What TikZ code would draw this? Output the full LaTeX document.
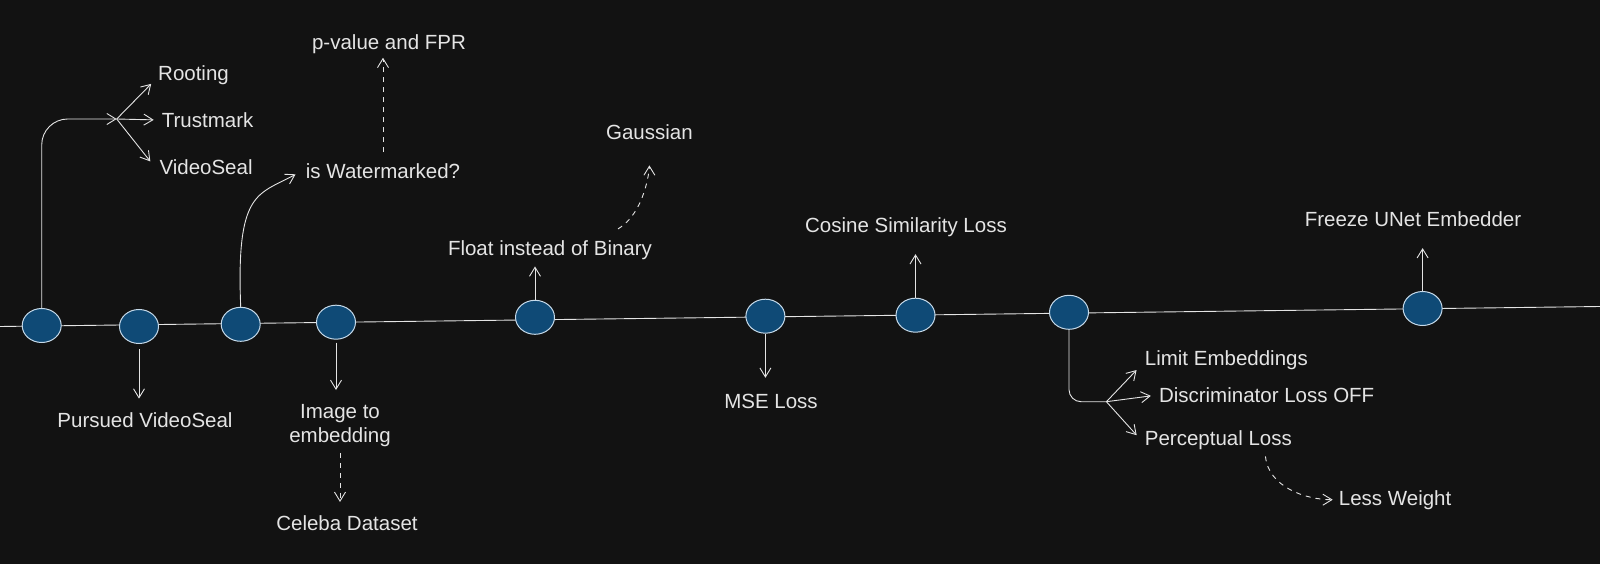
\documentclass[tikz,border=0pt]{standalone}
\usepackage{fontspec}
\setmainfont{Liberation Sans}
\usetikzlibrary{arrows.meta,shapes.geometric}
\definecolor{bg}{HTML}{121212}
\definecolor{ink}{HTML}{E4E4E4}
\definecolor{stepblue}{HTML}{0F4A76}
\definecolor{rim}{HTML}{C6DAEA}

\begin{document}
\begin{tikzpicture}[x=1pt, y=-1pt,
    >={Straight Barb[length=9pt,width=11pt]},
    stepnode/.style={ellipse, draw=rim, fill=stepblue, line width=1pt, minimum width=39pt, minimum height=34pt, inner sep=0pt},
    note/.style={text=ink, font=\fontsize{20.5}{24}\selectfont, inner sep=4pt},
    wire/.style={draw=ink, line width=0.9pt},
    link/.style={wire, ->},
    hint/.style={link, dash pattern=on 5pt off 5pt}]
    \useasboundingbox (0,0) rectangle (1600,564);
    \fill[bg] (0,0) rectangle (1600,564);

    \coordinate (tstart) at (0,326.5);
    \coordinate (tend) at (1600,306.5);
    \draw[wire] (tstart) -- (tend);

    \node[stepnode] (n1) at (41.7,325.5) {};
    \node[stepnode] (n2) at (139,326.5) {};
    \node[stepnode] (n3) at (240.7,324.3) {};
    \node[stepnode] (n4) at (336,322.2) {};
    \node[stepnode] (n5) at (535,317.3) {};
    \node[stepnode] (n6) at (765.4,316.2) {};
    \node[stepnode] (n7) at (915.5,315.2) {};
    \node[stepnode] (n8) at (1069,312.3) {};
    \node[stepnode] (n9) at (1422.6,308.5) {};

    \node[note, anchor=base west] (rooting) at (154,81) {Rooting};
    \node[note, anchor=base west] (trustmark) at (157.7,127.3) {Trustmark};
    \node[note, anchor=base west] (videoseal) at (155.3,175) {VideoSeal};
    \node[note, anchor=base] (wm) at (383,178.3) {is Watermarked?};
    \node[note, anchor=base] (pvalue) at (389,49.3) {p-value and FPR};
    \node[note, anchor=base] (pursued) at (145,427.7) {Pursued VideoSeal};
    \node[note, anchor=north, align=center] (img) at (340,400) {Image to\\embedding};
    \node[note, anchor=base] (celeba) at (347,530) {Celeba Dataset};
    \node[note, anchor=base] (float) at (550,255) {Float instead of Binary};
    \node[note, anchor=base] (gauss) at (649.4,140) {Gaussian};
    \node[note, anchor=base] (mse) at (771,408.3) {MSE Loss};
    \node[note, anchor=base] (cosine) at (906,232.7) {Cosine Similarity Loss};
    \node[note, anchor=base] (freeze) at (1413,226.7) {Freeze UNet Embedder};
    \node[note, anchor=base west] (limit) at (1140.7,365.7) {Limit Embeddings};
    \node[note, anchor=base west] (discr) at (1154.8,402.7) {Discriminator Loss OFF};
    \node[note, anchor=base west] (percep) at (1140.7,445) {Perceptual Loss};
    \node[note, anchor=base west] (less) at (1334.7,505) {Less Weight};

    \coordinate (fork1) at (116.7,119);
    \coordinate (fork2) at (1106.4,401.7);

    \draw[link, rounded corners=26pt] (n1.north) |- (fork1);
    \draw[link, shorten >=4pt] (fork1) -- (rooting.base west);
    \draw[link, shorten >=4pt] (fork1) -- (trustmark.west);
    \draw[link, shorten >=8pt] (fork1) -- (videoseal.west);

    \draw[link, shorten >=7pt] (n3.north) .. controls (236,190) and (258,195) .. (wm.west);
    \draw[hint, shorten <=7pt] (wm.north) -- (wm.north |- pvalue.south);

    \draw[link, shorten <=5pt, shorten >=10pt] (n2.south) -- (n2.south |- pursued.north);
    \draw[link, shorten <=3pt, shorten >=10pt] (n4.south) -- (n4.south |- img.north);
    \draw[hint, shorten <=2pt, shorten >=9pt] (img.south) -- (celeba.north -| img.south);

    \draw[link, shorten >=3pt] (n5.north) -- (n5.north |- float.south);
    \draw[hint, shorten >=21pt] ([xshift=68pt,yshift=7pt]float.north) .. controls +(27,-16) and +(0,25) .. (gauss.south);
    \draw[link, shorten >=12pt] (n6.south) -- (n6.south |- mse.north);
    \draw[link, shorten >=13pt] (n7.north) -- (n7.north |- cosine.south);
    \draw[link, shorten >=17pt] (n9.north) -- (n9.north |- freeze.south);

    \draw[wire, rounded corners=12pt] (n8.south) |- (fork2);
    \draw[link, shorten >=6pt] (fork2) -- (limit.base west);
    \draw[link, shorten >=4pt] (fork2) -- (discr.west);
    \draw[link, shorten >=6pt] (fork2) -- (percep.west);
    \draw[hint, shorten >=2pt] ([xshift=47pt,yshift=-3pt]percep.south) .. controls +(3,30) and +(-30,0) .. (less.west);
\end{tikzpicture}
\end{document}
